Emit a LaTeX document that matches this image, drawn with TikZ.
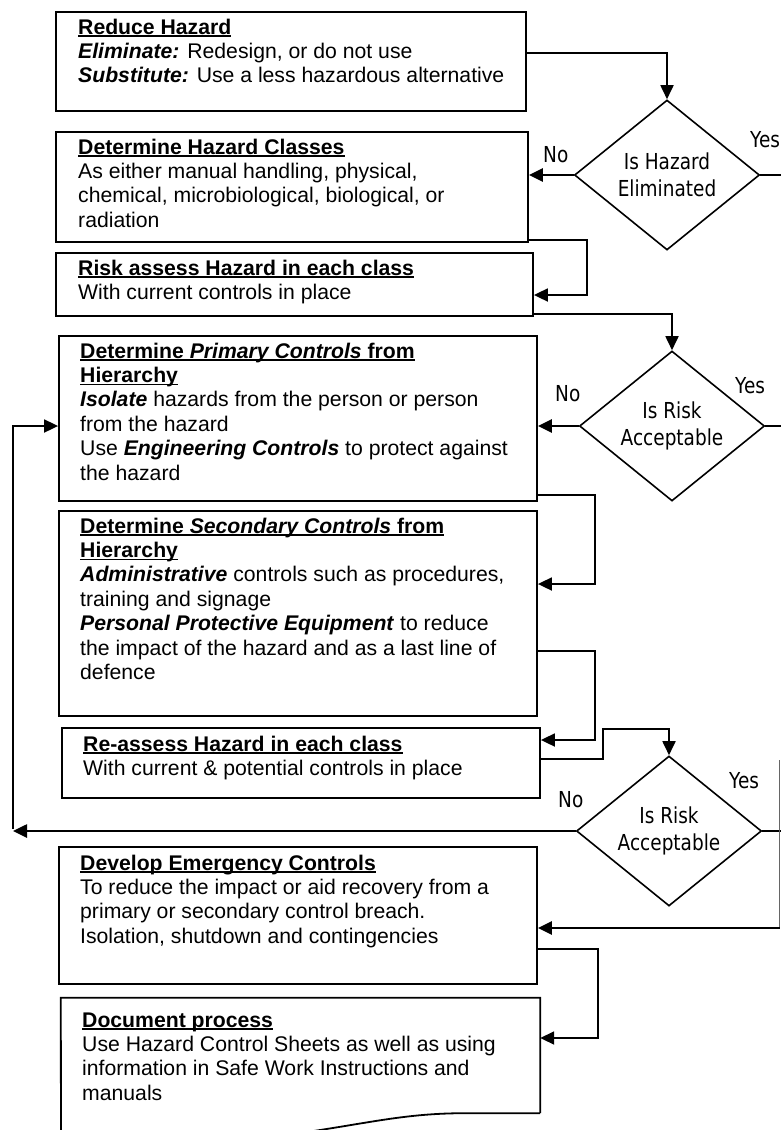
\documentclass[tikz,border=0pt]{standalone}
\usepackage{fontspec}
\setmainfont{Liberation Sans}
\newfontfamily\dfont{DejaVu Sans}[FakeStretch=0.84]
\usetikzlibrary{shapes.geometric,arrows.meta,calc}
\newcommand{\hdline}[1]{\sbox0{\bfseries #1}\rlap{\usebox0}\rule[-3pt]{\wd0}{1.6pt}}
\newcommand{\bfit}[1]{\textbf{\textit{#1}}}
\newcommand{\tb}[1]{\begin{tabular}[t]{@{}l@{}}#1\end{tabular}}
\begin{document}
\begin{tikzpicture}[x=1pt,y=-1pt,
  box/.style={draw,line width=1.8pt,inner sep=0pt},
  txt/.style={anchor=base west,inner sep=0pt,font=\fontsize{21.2}{24.4}\selectfont},
  dia/.style={diamond,draw,line width=1.6pt,inner sep=0pt,shape aspect=1.25,minimum width=185pt,minimum height=150pt,align=center,font=\dfont\fontsize{22}{26.7}\selectfont},
  lbl/.style={anchor=base west,inner sep=0pt,font=\dfont\fontsize{22}{26}\selectfont},
  con/.style={line width=1.8pt},
  nol/.style={line width=2.6pt},
  arr/.style={-{Triangle[length=14pt,width=13pt]}}]
\useasboundingbox (0,0) rectangle (780,1130);
\fill[white] (0,0) rectangle (780,1130);

% boxes
\node[box,minimum width=470pt,minimum height=99pt] (b1) at (291,61.5) {};
\node[box,minimum width=472pt,minimum height=110pt] (b2) at (292,187) {};
\node[box,minimum width=477pt,minimum height=63pt] (b3) at (294.5,284.5) {};
\node[box,minimum width=478pt,minimum height=165pt] (b4) at (298,418.5) {};
\node[box,minimum width=478pt,minimum height=205pt] (b5) at (298,613.5) {};
\node[box,minimum width=478pt,minimum height=70pt] (b6) at (301,763) {};
\node[box,minimum width=478pt,minimum height=137pt] (b7) at (298,915.5) {};
\node[inner sep=0pt,minimum width=479pt,minimum height=115pt] (b8) at (300.5,1055.5) {};
\draw[line width=1.8pt] (b8.south east) -- (b8.north east) -- (b8.north west) -- (61,1170);
\draw[line width=1.8pt] (b8.south east) -- ++(-75,0) .. controls ++(-60,0) and ++(70,-10) .. (300,1133) -- ++(-60,12);

% texts
\node[txt] (t1) at (78,34) {\tb{\hdline{Reduce Hazard}\\
\bfit{Eliminate:} Redesign, or do not use\\
\bfit{Substitute:} Use a less hazardous alternative}};
\node[txt] (t2) at (78,154) {\tb{\hdline{Determine Hazard Classes}\\
As either manual handling, physical,\\
chemical, microbiological, biological, or\\
radiation}};
\node[txt] (t3) at (78,275) {\tb{\hdline{Risk assess Hazard in each class}\\
With current controls in place}};
\node[txt] (t4) at (80,358) {\tb{\hdline{Determine \textit{Primary Controls} from}\\
\hdline{Hierarchy}\\
\bfit{Isolate} hazards from the person or person\\
from the hazard\\
Use \bfit{Engineering Controls} to protect against\\
the hazard}};
\node[txt] (t5) at (80,533) {\tb{\hdline{Determine \textit{Secondary Controls} from}\\
\hdline{Hierarchy}\\
\bfit{Administrative} controls such as procedures,\\
training and signage\\
\bfit{Personal Protective Equipment} to reduce\\
the impact of the hazard and as a last line of\\
defence}};
\node[txt] (t6) at (83,751) {\tb{\hdline{Re-assess Hazard in each class}\\
With current \& potential controls in place}};
\node[txt] (t7) at (80,870) {\tb{\hdline{Develop Emergency Controls}\\
To reduce the impact or aid recovery from a\\
primary or secondary control breach.\\
Isolation, shutdown and contingencies}};
\node[txt] (t8) at (82,1027) {\tb{\hdline{Document process}\\
Use Hazard Control Sheets as well as using\\
information in Safe Work Instructions and\\
manuals}};

% decisions
\node[dia] (d1) at (667,175) {Is Hazard\\Eliminated};
\node[dia] (d2) at (672,426) {Is Risk\\Acceptable};
\node[dia] (d3) at (669,831) {Is Risk\\Acceptable};

\node[lbl] (n1) at (543,162) {No};
\node[lbl] (y1) at (750,147) {Yes};
\node[lbl] (n2) at (555,401) {No};
\node[lbl] (y2) at (735,393) {Yes};
\node[lbl] (n3) at (558,807) {No};
\node[lbl] (y3) at (729,788) {Yes};

% connectors
\draw[con,arr] ([yshift=8.5pt]b1.east) -| (d1.north);
\draw[nol,arr] (d1.west) -- (d1.west -| b2.east);
\draw[con,arr] ([yshift=-53pt]b2.east) -- ++(58,0) |- ([yshift=-10.5pt]b3.east);
\draw[con,arr] ([yshift=-29.5pt]b3.east) -| (d2.north);
\draw[nol,arr] (d2.west) -- (d2.west -| b4.east);
\draw[con,arr] ([yshift=-76.5pt]b4.east) -- ++(57,0) |- ([yshift=29.5pt]b5.east);
\draw[con,arr] ([yshift=-37.5pt]b5.east) -- ++(57,0) |- ([yshift=23pt]b6.east);
\coordinate (k8) at (603,729);
\draw[con,arr] ([yshift=4pt]b6.east) -| (k8) -| (d3.north);
\coordinate (fb) at (13,829);
\draw[nol,arr] (d3.west) -- (d3.west -| fb);
\draw[con,arr] (fb) |- ([yshift=-7.5pt]b4.west);

\coordinate (e1) at (782,175);
\coordinate (e2) at (782,426);
\coordinate (e3) at (782,831);
\draw[con] (d1.east) -- (d1.east -| e1);
\draw[con] (d2.east) -- (d2.east -| e2);
\draw[con] (d3.east) -- (d3.east -| e3);
\coordinate (rv) at (779.5,760);
\coordinate (rb) at (779.5,928);
\draw[line width=1pt,black!60] (rv) -- (rb);
\draw[nol,arr] (rb) -- (rb -| b7.east);
\draw[con,arr] ([yshift=-33.5pt]b7.east) -- ++(60,0) |- ([yshift=17.5pt]b8.east);
\end{tikzpicture}
\end{document}
